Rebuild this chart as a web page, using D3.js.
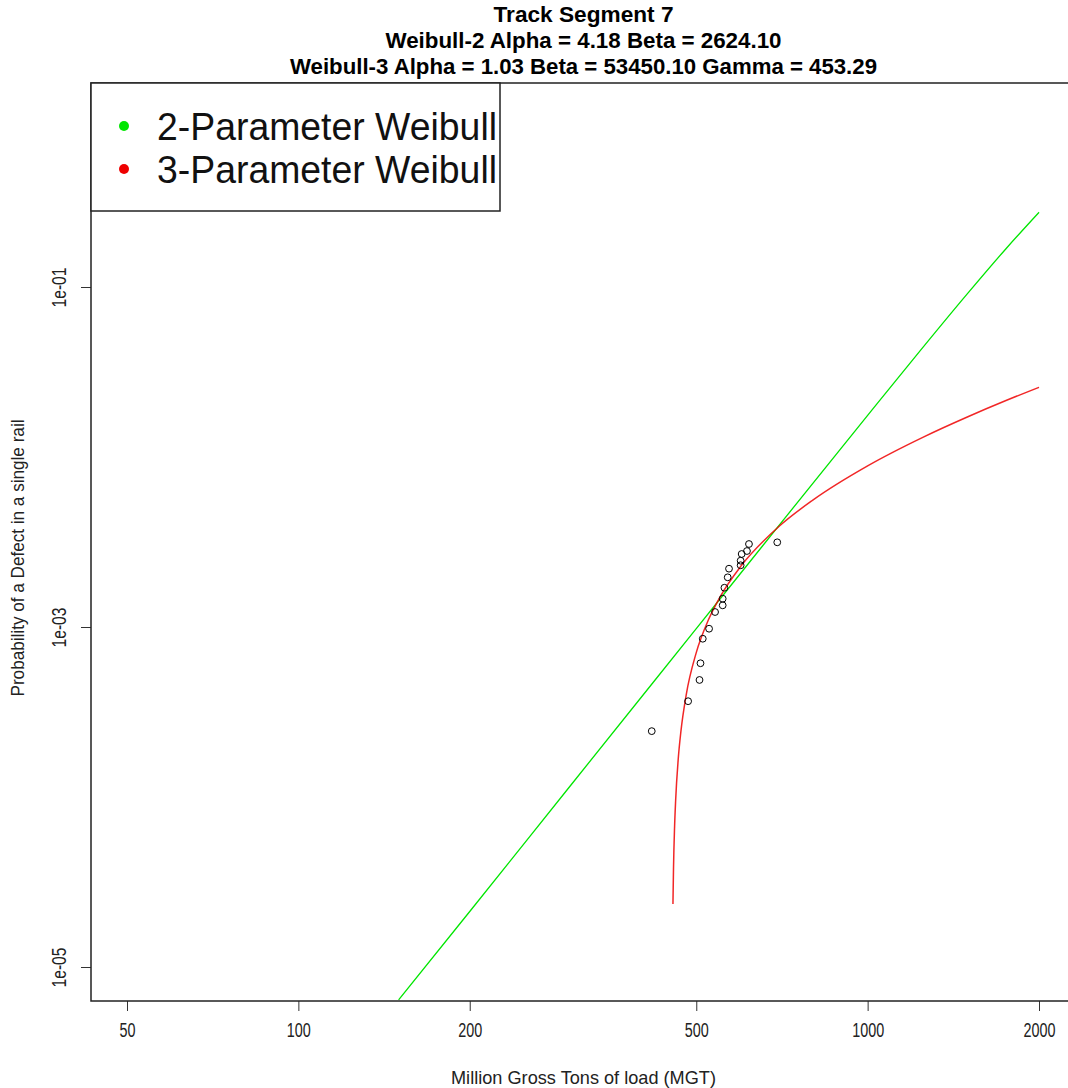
<!DOCTYPE html>
<html>
<head>
<meta charset="utf-8">
<script src="https://cdn.jsdelivr.net/npm/d3@7"></script>
<style>
  body { margin: 0; background: #fff; }
  svg { display: block; font-family: "Liberation Sans", Arial, sans-serif; }
</style>
</head>
<body>
<script>
// observed defects (MGT, probability)
var obsMGT  = [417.6, 483.8, 506.6, 508.6, 513.3, 526.6, 539.5, 556.4, 556.4, 560.3,
               567.8, 570.8, 598.3, 598.3, 600.8, 613.8, 618.8, 693.8];
var obsProb = [2.44e-4, 3.66e-4, 4.88e-4, 6.12e-4, 8.53e-4, 9.77e-4, 1.225e-3, 1.341e-3, 1.467e-3, 1.702e-3,
               1.96e-3, 2.203e-3, 2.307e-3, 2.455e-3, 2.688e-3, 2.799e-3, 3.077e-3, 3.149e-3];

// 2-parameter Weibull fit curve
var w2MGT  = [150, 200, 300, 500, 700, 1000, 1200, 1500, 1750, 2000];
var w2Prob = [6.4e-6, 2.12e-5, 1.157e-4, 9.78e-4, 3.99e-3, 0.01757, 0.03728, 0.092, 0.168, 0.275];

// 3-parameter Weibull fit curve
var w3MGT  = [455, 456, 458, 460, 465, 470, 480, 500, 525, 550, 600, 700, 800, 1000, 1250, 1500, 1750, 2000];
var w3Prob = [2.35e-5, 3.77e-5, 6.66e-5, 9.58e-5, 1.70e-4, 2.45e-4, 3.98e-4, 7.07e-4, 1.099e-3, 1.496e-3,
              2.298e-3, 3.927e-3, 5.56e-3, 8.87e-3, 0.01305, 0.01725, 0.02148, 0.0257];

var xTicks = [50, 100, 200, 500, 1000, 2000];
var yTicks = [1e-5, 1e-3, 1e-1];
var yTickLabels = ["1e-05", "1e-03", "1e-01"];

var titleLines = ["Track Segment 7",
                  "Weibull-2 Alpha = 4.18 Beta = 2624.10",
                  "Weibull-3 Alpha = 1.03 Beta = 53450.10 Gamma = 453.29"];
var legendLabels = ["2-Parameter Weibull", "3-Parameter Weibull"];
var legendColors = ["#00e600", "#ee0000"];

var width = 1068, height = 1088;
var box = {left: 91, right: 1076, top: 83, bottom: 1001};

// the original uses a narrow font; squeeze text to that width
var titleWidths = [180, 396, 587];
function digitWidth(s) { return s.length * 8; }

var x = d3.scaleLog().domain([50, 2000]).range([127, 1039]);
var y = d3.scaleLog().domain([1e-5, 1e-1]).range([967, 287]);

var svg = d3.select("body").append("svg")
    .attr("width", width)
    .attr("height", height);

svg.append("defs").append("clipPath")
    .attr("id", "plotclip")
  .append("rect")
    .attr("x", box.left)
    .attr("y", box.top)
    .attr("width", box.right - box.left)
    .attr("height", box.bottom - box.top);

// title
svg.selectAll(".title")
    .data(titleLines)
  .enter().append("text")
    .attr("class", "title")
    .attr("x", (box.left + box.right) / 2)
    .attr("y", function(d, i) { return 22 + i * 26; })
    .attr("textLength", function(d, i) { return titleWidths[i]; })
    .attr("lengthAdjust", "spacingAndGlyphs")
    .style("text-anchor", "middle")
    .style("font-weight", "bold")
    .style("font-size", "22px")
    .text(function(d) { return d; });

// axes
var xAxis = d3.axisBottom(x).tickValues(xTicks).tickFormat(d3.format("d")).tickSize(10).tickPadding(12);
var yAxis = d3.axisLeft(y).tickValues(yTicks).tickFormat(function(d, i) { return yTickLabels[i]; }).tickSize(10);

var gx = svg.append("g")
    .attr("transform", "translate(0," + box.bottom + ")")
    .call(xAxis);
gx.select(".domain").remove();
gx.selectAll("line").attr("stroke", "#333");
gx.selectAll("text")
    .style("font-size", "20px")
    .attr("fill", "#222")
    .attr("textLength", function() { return digitWidth(this.textContent); })
    .attr("lengthAdjust", "spacingAndGlyphs");

var gy = svg.append("g")
    .attr("transform", "translate(" + box.left + ",0)")
    .call(yAxis);
gy.select(".domain").remove();
gy.selectAll("line").attr("stroke", "#333");
gy.selectAll("text")
    .style("font-size", "20px")
    .attr("fill", "#222")
    .attr("x", null).attr("dy", null)
    .attr("textLength", 40)
    .attr("lengthAdjust", "spacingAndGlyphs")
    .style("text-anchor", "middle")
    .attr("transform", "translate(-25,0) rotate(-90)");

// curves
var line = d3.line()
    .x(function(d) { return x(d[0]); })
    .y(function(d) { return y(d[1]); })
    .curve(d3.curveMonotoneX);

var plot = svg.append("g").attr("clip-path", "url(#plotclip)");

plot.append("path")
    .datum(d3.zip(w2MGT, w2Prob))
    .attr("fill", "none")
    .attr("stroke", legendColors[0])
    .attr("stroke-width", 1.3)
    .attr("d", line);

plot.append("path")
    .datum(d3.zip(w3MGT, w3Prob))
    .attr("fill", "none")
    .attr("stroke", legendColors[1])
    .attr("stroke-opacity", 0.85)
    .attr("stroke-width", 1.5)
    .attr("d", line);

plot.selectAll(".dot")
    .data(d3.zip(obsMGT, obsProb))
  .enter().append("circle")
    .attr("class", "dot")
    .attr("r", 3.4)
    .attr("cx", function(d) { return x(d[0]); })
    .attr("cy", function(d) { return y(d[1]); })
    .attr("fill", "none")
    .attr("stroke", "#000")
    .attr("stroke-width", 1);

// plot box
svg.append("rect")
    .attr("x", box.left)
    .attr("y", box.top)
    .attr("width", box.right - box.left)
    .attr("height", box.bottom - box.top)
    .attr("fill", "none")
    .attr("stroke", "#222")
    .attr("stroke-width", 1.5);

// axis titles
svg.append("text")
    .attr("x", (box.left + box.right) / 2)
    .attr("y", 1084)
    .attr("textLength", 265)
    .attr("lengthAdjust", "spacingAndGlyphs")
    .style("text-anchor", "middle")
    .style("font-size", "19px")
    .attr("fill", "#222")
    .text("Million Gross Tons of load (MGT)");

svg.append("text")
    .attr("transform", "translate(24,558) rotate(-90)")
    .attr("textLength", 277)
    .attr("lengthAdjust", "spacingAndGlyphs")
    .style("text-anchor", "middle")
    .style("font-size", "18px")
    .attr("fill", "#222")
    .text("Probability of a Defect in a single rail");

// legend
var legend = svg.append("g");
legend.append("rect")
    .attr("x", box.left)
    .attr("y", box.top)
    .attr("width", 409)
    .attr("height", 128)
    .attr("fill", "#fff")
    .attr("stroke", "#222")
    .attr("stroke-width", 1.5);

legend.selectAll(".ldot")
    .data(legendLabels)
  .enter().append("circle")
    .attr("cx", 124)
    .attr("cy", function(d, i) { return 126 + i * 43; })
    .attr("r", 5)
    .attr("fill", function(d, i) { return legendColors[i]; });

legend.selectAll(".ltext")
    .data(legendLabels)
  .enter().append("text")
    .attr("x", 157)
    .attr("y", function(d, i) { return 140 + i * 43; })
    .attr("textLength", 340)
    .attr("lengthAdjust", "spacingAndGlyphs")
    .style("font-size", "38px")
    .attr("fill", "#111")
    .text(function(d) { return d; });
</script>
</body>
</html>
